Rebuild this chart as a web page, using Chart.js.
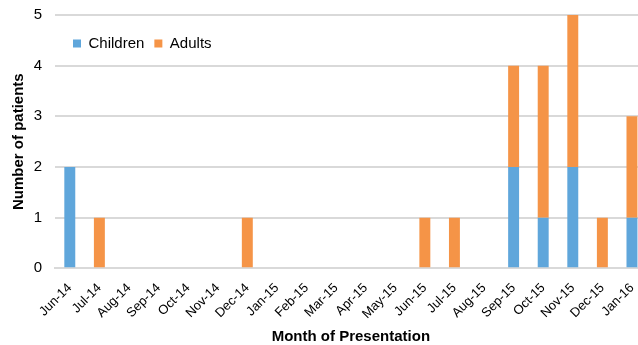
<!DOCTYPE html>
<html>
<head>
<meta charset="utf-8">
<script src="https://cdn.jsdelivr.net/npm/chart.js@4"></script>
<style>
  html, body { margin: 0; padding: 0; background: #fff; overflow: hidden; }
  #wrap { position: relative; width: 647px; height: 345px; }
</style>
</head>
<body>
<div id="wrap"><canvas id="chart"></canvas></div>
<script>
const months = ['Jun-14', 'Jul-14', 'Aug-14', 'Sep-14', 'Oct-14', 'Nov-14', 'Dec-14', 'Jan-15', 'Feb-15', 'Mar-15',
  'Apr-15', 'May-15', 'Jun-15', 'Jul-15', 'Aug-15', 'Sep-15', 'Oct-15', 'Nov-15', 'Dec-15', 'Jan-16'];
const children = [2, 0, 0, 0, 0, 0, 0, 0, 0, 0, 0, 0, 0, 0, 0, 2, 1, 2, 0, 1];
const adults = [0, 1, 0, 0, 0, 0, 1, 0, 0, 0, 0, 0, 1, 1, 0, 2, 3, 3, 1, 2];

const font = "'Liberation Sans', Arial, sans-serif";

// legend sits inside the plot, top-left, and takes no room in the layout
const legendInside = {
  id: 'legendInside',
  beforeInit(chart) {
    const fit = chart.legend.fit;
    chart.legend.fit = function () {
      fit.call(this);
      this.height = 0;
    };
  },
  afterLayout(chart) {
    const lg = chart.legend;
    lg.left = chart.chartArea.left + 8;
    lg.top = chart.chartArea.top + 11;
    lg.bottom = lg.top + 40;
    lg.height = 40;
  }
};

new Chart(document.getElementById('chart'), {
  type: 'bar',
  data: {
    labels: months,
    datasets: [
      { label: 'Children', data: children, backgroundColor: '#5fa6db' },
      { label: 'Adults', data: adults, backgroundColor: '#f59447' }
    ]
  },
  plugins: [legendInside],
  options: {
    responsive: true,
    maintainAspectRatio: false,
    animation: false,
    layout: { padding: { top: 0, right: 0, bottom: 0, left: 6 } },
    datasets: {
      bar: { barPercentage: 0.37, categoryPercentage: 1 }
    },
    plugins: {
      tooltip: { enabled: false },
      legend: {
        position: 'top',
        align: 'start',
        fullSize: false,
        labels: {
          boxWidth: 8,
          boxHeight: 8,
          padding: 10,
          color: '#000',
          font: { family: font, size: 15 }
        }
      }
    },
    scales: {
      x: {
        stacked: true,
        grid: { display: false },
        border: { color: '#d9d9d9', width: 2 },
        ticks: {
          color: '#000',
          maxRotation: 45,
          minRotation: 45,
          padding: 4,
          font: { family: font, size: 13 }
        },
        title: {
          display: true,
          text: 'Month of Presentation',
          color: '#000',
          padding: { top: 2, bottom: -1 },
          font: { family: font, size: 15, weight: 'bold' }
        }
      },
      y: {
        stacked: true,
        min: 0,
        max: 5,
        afterFit(scale) {
          scale.width = 49;
          scale.paddingTop = 15;
        },
        grid: { color: '#d9d9d9', lineWidth: 2, drawTicks: false },
        border: { display: false },
        ticks: {
          stepSize: 1,
          color: '#000',
          padding: 13,
          font: { family: font, size: 15 }
        },
        title: {
          display: true,
          text: 'Number of patients',
          color: '#000',
          font: { family: font, size: 15, weight: 'bold' }
        }
      }
    }
  }
});
</script>
</body>
</html>
